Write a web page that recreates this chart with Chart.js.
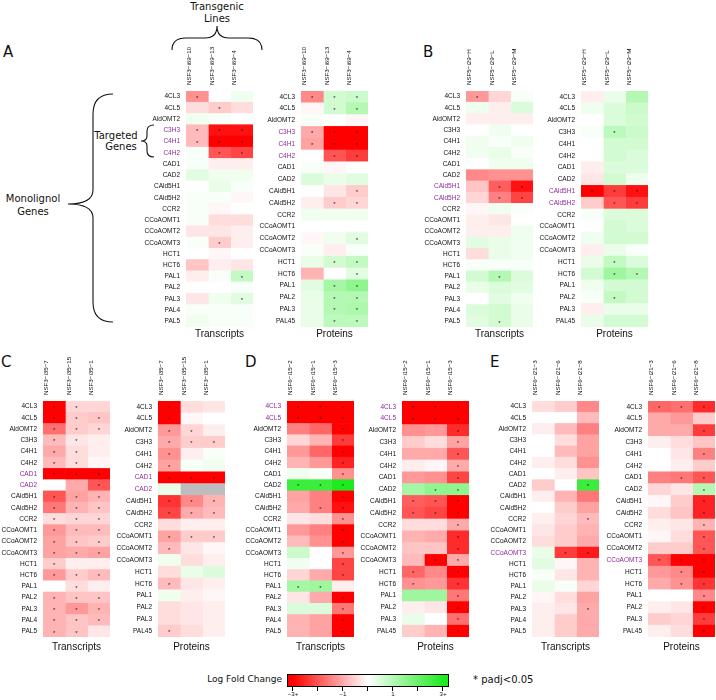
<!DOCTYPE html>
<html lang="en">
<head>
<meta charset="UTF-8">
<title>Monolignol gene heatmaps</title>
<script src="https://cdn.jsdelivr.net/npm/chart.js"></script>
<style>
  body { margin: 0; background: #fff; font-family: 'DejaVu Sans', sans-serif; color: #111; }
  #fig { position: relative; width: 716px; height: 700px; overflow: hidden; }
  #fig canvas, #fig .t { position: absolute; }
  .t { white-space: nowrap; }
  .letter { font-size: 15px; line-height: 15px; }
  .lbl { font-size: 10px; line-height: 10px; text-align: center; width: 100px; }
  #cbar { position: absolute; left: 287px; top: 674px; width: 162px; height: 13px; box-sizing: border-box;
          border: 1px solid #000;
          background: linear-gradient(to right, #ff0000 3%, #ffffff 50%, #1eeb1e 97%); }
  .tick { position: absolute; top: 687px; width: 1px; height: 4px; background: #000; }
  .tl { font-family: 'Liberation Sans', sans-serif; font-size: 6px; line-height: 6px; width: 20px; text-align: center; top: 691px; }
</style>
</head>
<body>
<div id="fig">
  <div class="t letter" style="left:3px;top:45px">A</div>
  <div class="t letter" style="left:423px;top:45px">B</div>
  <div class="t letter" style="left:1px;top:355px">C</div>
  <div class="t letter" style="left:245px;top:355px">D</div>
  <div class="t letter" style="left:490px;top:355px">E</div>

  <div class="t lbl" style="left:167px;top:2px">Transgenic</div>
  <div class="t lbl" style="left:167px;top:14px">Lines</div>
  <div class="t lbl" style="left:-17px;top:194px">Monolignol</div>
  <div class="t lbl" style="left:-17px;top:207px">Genes</div>
  <div class="t lbl" style="left:66px;top:131px">Targeted</div>
  <div class="t lbl" style="left:71px;top:142px">Genes</div>

  <svg class="t" style="left:0;top:0" width="716" height="700">
    <g fill="none" stroke="#111" stroke-width="1.1">
      <path d="M172,50 Q172,38 186,38 L205,38 Q217,38 217,26 Q217,38 229,38 L248,38 Q262,38 262,50"/>
      <path d="M113,94 Q93,94 93,114 L93,190 Q93,204 68,204 Q93,204 93,218 L93,302 Q93,322 113,322"/>
      <path d="M154,125 Q147,125 147,131 L147,136 Q147,141 141,141 Q147,141 147,146 L147,151 Q147,157 154,157"/>
    </g>
  </svg>

  <canvas id="aT" width="148" height="312"></canvas>
  <canvas id="aP" width="148" height="312"></canvas>
  <canvas id="bT" width="148" height="312"></canvas>
  <canvas id="bP" width="148" height="312"></canvas>
  <canvas id="cT" width="148" height="312"></canvas>
  <canvas id="cP" width="148" height="312"></canvas>
  <canvas id="dT" width="148" height="312"></canvas>
  <canvas id="dP" width="148" height="312"></canvas>
  <canvas id="eT" width="148" height="312"></canvas>
  <canvas id="eP" width="148" height="312"></canvas>

  <div class="t" style="left:182px;top:675px;width:100px;text-align:right;font-size:9px;line-height:9px">Log Fold Change</div>
  <div id="cbar"></div>
  <div class="tick" style="left:292px"></div>
  <div class="tick" style="left:317px"></div>
  <div class="tick" style="left:342px"></div>
  <div class="tick" style="left:367px"></div>
  <div class="tick" style="left:392px"></div>
  <div class="tick" style="left:417px"></div>
  <div class="tick" style="left:442px"></div>
  <div class="t tl" style="left:283px">−3+</div>
  <div class="t tl" style="left:333px">−1</div>
  <div class="t tl" style="left:383px">1</div>
  <div class="t tl" style="left:433px">3+</div>
  <div class="t" style="left:473px;top:675px;font-size:10px;line-height:10px">* padj&lt;0.05</div>
</div>

<script>
  // gene rows
  const transcriptGenes = ['4CL3','4CL5','AldOMT2','C3H3','C4H1','C4H2','CAD1','CAD2','CAld5H1','CAld5H2','CCR2',
    'CCoAOMT1','CCoAOMT2','CCoAOMT3','HCT1','HCT6','PAL1','PAL2','PAL3','PAL4','PAL5'];
  const proteinGenes = ['4CL3','4CL5','AldOMT2','C3H3','C4H1','C4H2','CAD1','CAD2','CAld5H1','CAld5H2','CCR2',
    'CCoAOMT1','CCoAOMT2','CCoAOMT3','HCT1','HCT6','PAL1','PAL2','PAL3','PAL45'];

  // transgenic lines per panel
  const linesA = ['NSF3−i69−10','NSF3−i69−13','NSF3−i69−4'];
  const linesB = ['NSF5−i29−H','NSF5−i29−L','NSF5−i29−M'];
  const linesC = ['NSF3−i35−7','NSF3−i35−15','NSF3−i35−1'];
  const linesD = ['NSF6−i15−2','NSF6−i15−1','NSF6−i15−3'];
  const linesE = ['NSF6−i21−3','NSF6−i21−6','NSF6−i21−8'];

  // targeted genes (purple labels)
  const targetA = ['C3H3','C4H1','C4H2'];
  const targetB = ['CAld5H1','CAld5H2'];
  const targetC = ['CAD1','CAD2'];
  const targetD = ['4CL3','4CL5'];
  const targetE = ['CCoAOMT3'];

  // log fold change, one row per gene, one value per line (null = no data)
  const aTransVals = [[-1.3,0,0.2],[-0.4,-0.6,-0.4],[0.2,0.1,0],[-0.8,-2.8,-2.8],[-0.8,-3.2,-3.2],[0.1,-2.0,-2.2],
    [0.1,-0.2,-0.2],[0.4,0.2,0.2],[0,0.3,0.1],[0.1,0.1,-0.1],[0.1,-0.1,0],[0.1,-0.4,-0.4],[-0.3,-0.3,-0.2],
    [0.1,-0.6,-0.2],[0,-0.1,0],[-0.7,-0.2,-0.3],[-0.2,0.1,0.8],[0,0,0.1],[-0.3,0.2,0.4],[0.1,0.1,0.1],[0.2,0.1,0.1]];
  const aTransSig = ['100','010','000','111','111','011','000','000','000','000','000','000','000',
    '010','000','000','001','000','001','000','000'];
  const aProtVals = [[-1.4,0.6,0.7],[-0.1,0.6,1.0],[0.1,0,-0.1],[-1.0,-3.3,-3.3],[-1.1,-3.3,-3.3],[0,-2.0,-2.3],
    [0.1,-0.1,0],[0.5,0.3,0.4],[0,-0.3,-0.6],[-0.2,-0.6,-0.5],[0.2,0.2,0.2],[0,0,0],[-0.1,0.2,0.4],
    [0.1,-0.2,0.1],[0.3,0.6,0.8],[-0.9,0,0.4],[0.4,1.2,1.5],[0.3,1.0,1.0],[0.3,1.0,1.1],[0.3,0.9,0.9]];
  const aProtSig = ['111','011','000','111','111','011','000','000','001','011','000','000','001',
    '000','011','001','011','011','011','011'];

  const bTransVals = [[-1.2,-0.5,0.1],[0.2,-0.2,0.5],[-0.2,-0.2,-0.2],[0,0.2,0],[0.2,0.1,0.2],[0.2,0.3,0.1],
    [0,0.2,0.2],[-1.4,-1.3,-1.3],[-0.7,-1.9,-2.8],[-0.5,-1.5,-2.2],[-0.1,0.2,0.1],[-0.2,-0.3,0],[-0.2,-0.2,0.2],
    [0.4,0.3,0.2],[-0.4,0.3,0.2],[0.1,0.1,0.1],[0.6,1.0,0.5],[0.3,0.5,0.4],[0,0.4,0.2],[0.5,0.6,0.3],[0.4,0.6,0.3]];
  const bTransSig = ['100','000','000','000','000','000','000','000','011','011','000','000','000',
    '000','000','000','010','000','000','000','010'];
  const bProtVals = [[-0.2,0.3,1.0],[0.2,0.5,0.7],[0,0.5,0.6],[0.1,0.9,0.7],[0,0.6,0.6],[0,0.6,0.5],
    [-0.2,0.5,0.5],[-0.3,0.6,0.2],[-3.3,-2.3,-2.8],[-0.6,-2.0,-2.3],[0.1,0.5,0.5],[0,0.6,0.5],[0.2,0.6,0.6],
    [-0.2,0.3,0.1],[0.3,0.8,0.5],[0.6,1.3,1.0],[0.2,0.6,0.6],[0.1,0.8,0.6],[-0.2,0.3,0.3],[0.3,0.6,0.6]];
  const bProtSig = ['000','000','000','010','000','000','000','000','111','011','000','000','000',
    '000','010','011','000','010','000','000'];

  const cTransVals = [[-3.2,-0.5,-0.5],[-3.2,-0.6,-0.7],[-1.7,-0.6,-0.5],[-0.8,-0.3,-0.2],[-1.0,-0.4,-0.2],
    [-0.8,-0.4,-0.1],[-3.3,-3.3,-3.3],[0,-1.0,-2.0],[-2.0,-1.1,-0.9],[-1.6,-0.9,-0.7],[-0.4,-0.5,-0.5],
    [-1.2,-0.8,-0.8],[-1.1,-0.7,-0.6],[-1.1,-1.0,-1.1],[-0.6,-0.2,-0.2],[-1.2,-0.6,-0.8],[0,-0.4,-0.2],
    [-0.9,-0.7,-0.7],[-0.9,-1.2,-0.9],[-0.9,-0.7,-0.8],[-0.9,-0.7,-0.3]];
  const cTransSig = ['110','111','111','110','110','110','111','001','111','111','111','111','111',
    '111','100','111','010','111','111','111','110'];
  const cProtVals = [[-3.3,-0.4,-0.3],[-3.3,-0.1,0],[-1.2,-0.5,-0.2],[-1.0,-0.6,-0.6],[-1.3,-0.2,0.1],
    [-1.1,0.1,0.2],[-3.4,-3.4,-3.4],[0.3,null,null],[-2.4,-1.4,-0.9],[-2.2,-1.0,-0.8],[-0.4,-0.2,-0.2],
    [-1.1,-0.6,-0.6],[-0.8,-0.3,-0.1],[0.2,-0.4,-0.2],[-0.4,0.3,0.5],[-0.8,-0.3,-0.2],[0.2,-0.2,-0.1],
    [-0.4,-0.3,-0.2],[-0.4,-0.3,-0.2],[-0.6,-0.4,-0.2]];
  const cProtSig = ['100','100','110','111','100','100','111','000','111','111','000','111','100',
    '000','000','100','000','000','000','100'];

  const dTransVals = [[-3.3,-3.3,-3.3],[-3.2,-3.2,-3.3],[-1.5,-1.8,-3.3],[-0.5,-0.9,-2.3],[-1.2,-1.8,-3.0],
    [-0.9,-1.2,-2.6],[0.2,0.1,-1.3],[2.6,2.6,3.3],[-1.1,-1.5,-3.0],[-1.0,-1.5,-2.8],[-0.3,-0.4,-1.3],
    [-1.2,-1.5,-3.1],[-0.8,-1.3,-3.0],[0.7,0,-1.2],[0.2,0,-2.2],[-0.5,-1.0,-2.2],[1.2,1.3,-0.2],
    [-0.3,-1.0,-3.0],[0.5,0.5,-1.6],[-0.9,-1.1,-3.2],[-0.9,-1.1,-3.2]];
  const dTransSig = ['111','111','001','001','001','001','001','111','001','011','001','001','001',
    '001','001','001','110','001','001','001','001'];
  const dProtVals = [[-3.3,-3.3,-3.3],[-3.2,-3.2,-3.3],[-1.3,-1.2,-2.5],[-0.6,-0.4,-1.1],[-1.0,-1.0,-2.0],
    [-0.2,-0.1,-1.0],[-1.2,-1.3,-2.2],[1.2,1.5,1.5],[-1.9,-2.0,-3.2],[-2.0,-2.2,-3.2],[-0.4,-0.4,-1.0],
    [-0.9,-1.0,-2.5],[-0.7,-0.7,-2.5],[-0.8,-3.3,-1.0],[-1.8,-1.4,-3.0],[-1.3,-1.2,-2.4],[1.3,1.3,-1.6],
    [-0.2,-0.3,-3.0],[0.3,0,-1.7],[-0.6,-0.9,-3.1]];
  const dProtSig = ['111','111','001','001','001','001','001','011','111','111','001','001','001',
    '011','101','101','001','001','001','001'];

  const eTransVals = [[-0.4,-0.6,-1.4],[0,0,-0.8],[-0.2,-0.8,-1.5],[0,-0.4,-1.1],[0,-0.8,-1.1],[-0.2,-0.4,-1.3],
    [0,-0.2,-0.7],[-0.6,0,2.6],[-0.2,-0.9,-1.6],[0,-0.6,-1.1],[-0.2,-0.5,-0.8],[-0.3,-0.6,-0.9],[-0.4,-0.6,-1.0],
    [0.3,-2.3,-2.7],[0.4,-0.1,-0.9],[0.1,-0.3,-0.9],[0.3,0.1,-0.5],[-0.1,-0.4,-1.1],[-0.2,-0.3,-1.0],
    [-0.2,-0.6,-1.0],[-0.2,-0.6,-1.0]];
  const eTransSig = ['000','000','000','000','000','000','000','001','000','000','001','000','000',
    '011','000','000','000','000','001','000','000'];
  const eProtVals = [[-1.8,-1.7,-2.5],[-1.0,-1.2,-0.6],[-1.0,-1.0,-2.3],[-0.2,-0.4,-0.7],[0,-0.3,-1.5],
    [0,-0.2,-0.6],[-1.5,-1.6,-2.0],[-0.5,-0.3,1.0],[-0.1,-0.6,-2.6],[-0.4,-0.7,-2.6],[-0.2,-0.3,-0.9],
    [-0.1,-0.4,-2.0],[-0.6,-0.6,-2.0],[-2.0,-3.3,-3.3],[-1.2,-1.4,-3.1],[-1.0,-1.3,-2.4],[0,0,-1.4],
    [-0.2,-0.3,-3.0],[-0.6,-0.5,-2.3],[-0.2,-0.4,-3.0]];
  const eProtSig = ['111','000','001','000','001','000','011','001','001','001','001','001','001',
    '111','011','011','001','001','001','001'];

  const purple = '#8e2a9c';
  const sigByCanvas = {};

  function lfcColor(v) {
    if (v === null) return '#bdbdbd';
    const t = Math.min(Math.abs(v) / 3, 1);
    if (v < 0) {
      const c = Math.round(255 * (1 - t));
      return `rgb(255,${c},${c})`;
    }
    const rb = Math.round(255 - 225 * t), g = Math.round(255 - 20 * t);
    return `rgb(${rb},${g},${rb})`;
  }

  const starPlugin = {
    id: 'stars',
    afterDatasetsDraw(chart) {
      const sig = sigByCanvas[chart.canvas.id];
      const ctx = chart.ctx;
      ctx.save();
      ctx.fillStyle = '#222';
      ctx.font = '6px "Liberation Sans"';
      ctx.textAlign = 'center';
      ctx.textBaseline = 'middle';
      chart.data.datasets.forEach((ds, j) => {
        chart.getDatasetMeta(j).data.forEach((bar, i) => {
          if (sig[i][j] !== '1') return;
          const p = bar.getProps(['x', 'y', 'base'], true);
          ctx.fillText('*', (p.x + p.base) / 2, p.y + 1.5);
        });
      });
      ctx.restore();
    }
  };

  function heatmap(id, left, top, genes, lines, vals, sig, targets, title, padTop) {
    const canvas = document.getElementById(id);
    canvas.style.left = (left - 80) + 'px';
    canvas.style.top = (top - 60) + 'px';
    sigByCanvas[id] = sig;
    new Chart(canvas, {
      type: 'bar',
      data: {
        labels: genes,
        datasets: lines.map((line, j) => ({
          label: line,
          data: genes.map(() => 1),
          backgroundColor: vals.map(r => lfcColor(r[j])),
          borderWidth: 0,
          barPercentage: 1,
          categoryPercentage: 1,
          xAxisID: 'x',
          yAxisID: 'y'
        }))
      },
      options: {
        indexAxis: 'y',
        responsive: false,
        animation: false,
        events: [],
        layout: { padding: { right: 1 } },
        plugins: {
          legend: { display: false },
          tooltip: { enabled: false },
          title: {
            display: true, text: title, position: 'bottom', fullSize: false, color: '#111',
            font: { family: 'Liberation Sans', size: 10, weight: 'normal', lineHeight: 1 },
            padding: { top: padTop, bottom: 6 - padTop }
          }
        },
        scales: {
          x: { type: 'linear', stacked: true, min: 0, max: 3, display: false },
          xTop: {
            type: 'category', position: 'top', labels: lines, offset: true,
            grid: { display: false, drawTicks: false }, border: { display: false },
            ticks: { minRotation: 90, maxRotation: 90, autoSkip: false, padding: 6, color: '#111',
                     font: { family: 'Liberation Sans', size: 6.2 } },
            afterFit: s => { s.height = 60; }
          },
          y: {
            type: 'category', stacked: true,
            grid: { display: false, drawTicks: false }, border: { display: false },
            ticks: { autoSkip: false, padding: 6, font: { family: 'Liberation Sans', size: 6.5 },
                     color: c => targets.includes(genes[c.index]) ? purple : '#111' },
            afterFit: s => { s.width = 80; }
          }
        }
      },
      plugins: [starPlugin]
    });
  }

  heatmap('aT', 186, 91, transcriptGenes, linesA, aTransVals, aTransSig, targetA, 'Transcripts', 2);
  heatmap('aP', 301, 91, proteinGenes, linesA, aProtVals, aProtSig, targetA, 'Proteins', 2);
  heatmap('bT', 466, 91, transcriptGenes, linesB, bTransVals, bTransSig, targetB, 'Transcripts', 2);
  heatmap('bP', 581, 91, proteinGenes, linesB, bProtVals, bProtSig, targetB, 'Proteins', 2);
  heatmap('cT', 43, 401, transcriptGenes, linesC, cTransVals, cTransSig, targetC, 'Transcripts', 5);
  heatmap('cP', 158, 401, proteinGenes, linesC, cProtVals, cProtSig, targetC, 'Proteins', 5);
  heatmap('dT', 287, 401, transcriptGenes, linesD, dTransVals, dTransSig, targetD, 'Transcripts', 5);
  heatmap('dP', 402, 401, proteinGenes, linesD, dProtVals, dProtSig, targetD, 'Proteins', 5);
  heatmap('eT', 532, 401, transcriptGenes, linesE, eTransVals, eTransSig, targetE, 'Transcripts', 5);
  heatmap('eP', 648, 401, proteinGenes, linesE, eProtVals, eProtSig, targetE, 'Proteins', 5);
</script>
</body>
</html>
